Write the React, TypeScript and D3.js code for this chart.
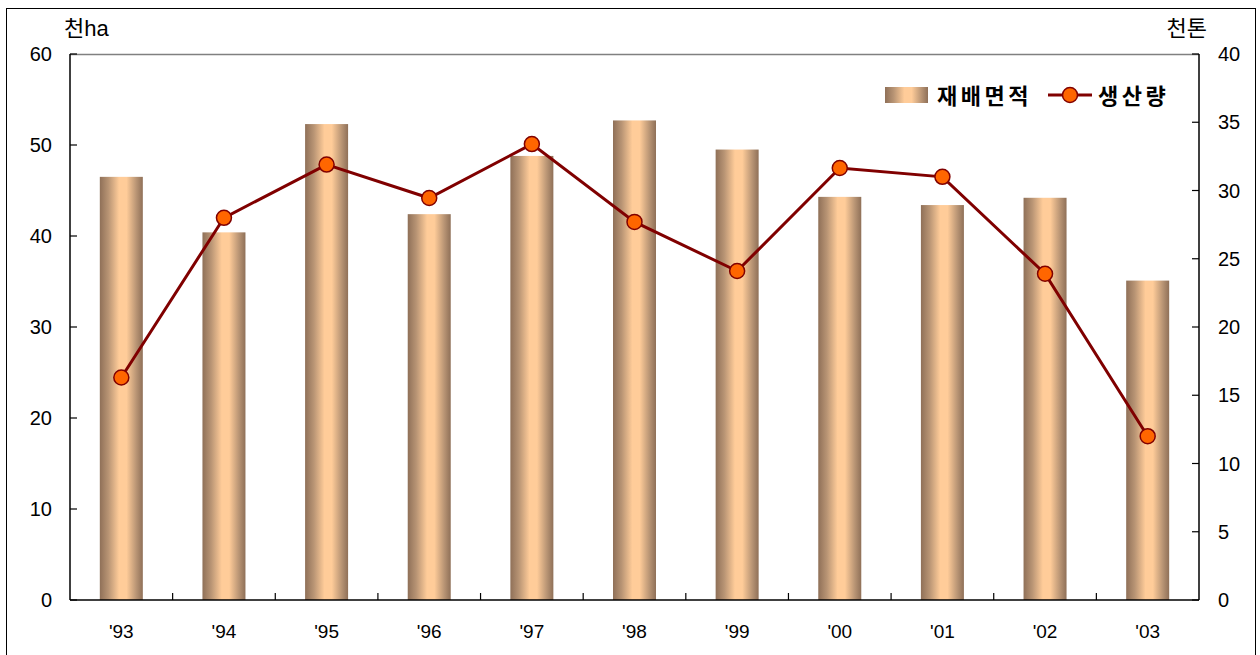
import React from "react";
import * as d3 from "d3";

const categories = ["'93", "'94", "'95", "'96", "'97", "'98", "'99", "'00", "'01", "'02", "'03"];
const areaValues = [46.5, 40.4, 52.3, 42.4, 48.8, 52.7, 49.5, 44.3, 43.4, 44.2, 35.1];
const productionValues = [16.3, 28.0, 31.9, 29.45, 33.4, 27.7, 24.1, 31.65, 31.0, 23.9, 12.0];
const leftTicks = [0, 10, 20, 30, 40, 50, 60];
const rightTicks = [0, 5, 10, 15, 20, 25, 30, 35, 40];

const W = 1260;
const H = 655;
const L = 70, R = 1199, T = 54, B = 600;
const font = "'Liberation Sans', Arial, 'Noto Sans CJK KR', sans-serif";
const kfont = "'Noto Sans CJK KR', 'Liberation Sans', sans-serif";

export default function App() {
  const x = d3.scaleBand<string>().domain(categories).range([L, R]).paddingInner(0).paddingOuter(0);
  const yL = d3.scaleLinear().domain([0, 60]).range([B, T]);
  const yR = d3.scaleLinear().domain([0, 40]).range([B, T]);
  const bw = 43;
  const line = d3
    .line<number>()
    .x((_, i) => (x(categories[i]) as number) + x.bandwidth() / 2)
    .y((d) => yR(d));

  return (
    <svg width={W} height={H} style={{ position: "absolute", left: 0, top: 0, display: "block" }}>
      <defs>
        <linearGradient id="barGrad" x1="0" x2="1" y1="0" y2="0">
          <stop offset="0%" stopColor="#8f7058" />
          <stop offset="20%" stopColor="#b89474" />
          <stop offset="45%" stopColor="#ffcc99" />
          <stop offset="62%" stopColor="#ffcc99" />
          <stop offset="85%" stopColor="#b89474" />
          <stop offset="100%" stopColor="#8f7058" />
        </linearGradient>
      </defs>
      <rect x={0} y={0} width={W} height={H} fill="#fff" />
      <rect x={6.5} y={8.5} width={1249} height={660} fill="#fff" stroke="#000" strokeWidth={1} />

      {/* plot top border */}
      <line x1={L} x2={R} y1={T + 0.5} y2={T + 0.5} stroke="#808080" strokeWidth={1.5} />

      {/* bars */}
      {areaValues.map((v, i) => (
        <rect
          key={i}
          x={(x(categories[i]) as number) + x.bandwidth() / 2 - bw / 2}
          y={yL(v)}
          width={bw}
          height={B - yL(v)}
          fill="url(#barGrad)"
        />
      ))}

      {/* axes */}
      <line x1={L} x2={L} y1={T} y2={B} stroke="#000" strokeWidth={1.5} />
      <line x1={R} x2={R} y1={T} y2={B} stroke="#000" strokeWidth={1.5} />
      <line x1={L} x2={R} y1={B} y2={B} stroke="#000" strokeWidth={1.5} />

      {leftTicks.map((t) => (
        <g key={"l" + t}>
          <line x1={L} x2={L + 7} y1={yL(t)} y2={yL(t)} stroke="#000" strokeWidth={1.2} />
          <text x={52} y={yL(t) + 7} textAnchor="end" fontFamily={font} fontSize={20} fill="#000">
            {t}
          </text>
        </g>
      ))}
      {rightTicks.map((t) => (
        <g key={"r" + t}>
          <line x1={R - 7} x2={R} y1={yR(t)} y2={yR(t)} stroke="#000" strokeWidth={1.2} />
          <text x={1218} y={yR(t) + 7} textAnchor="start" fontFamily={font} fontSize={20} fill="#000">
            {t}
          </text>
        </g>
      ))}
      {categories.map((c, i) =>
        i > 0 ? (
          <line key={"xt" + i} x1={x(c) as number} x2={x(c) as number} y1={B - 7} y2={B} stroke="#000" strokeWidth={1.2} />
        ) : null
      )}
      {categories.map((c) => (
        <text
          key={"xl" + c}
          x={(x(c) as number) + x.bandwidth() / 2}
          y={638}
          textAnchor="middle"
          fontFamily={font}
          fontSize={19}
          fill="#000"
        >
          {c}
        </text>
      ))}

      {/* unit labels */}
      <text x={64} y={36} fontFamily={kfont} fontSize={22} fill="#000">
        천<tspan fontFamily={font}>ha</tspan>
      </text>
      <text x={1207} y={36} textAnchor="end" fontFamily={kfont} fontSize={22} fill="#000">
        천톤
      </text>

      {/* line */}
      <path d={line(productionValues) || ""} fill="none" stroke="#800000" strokeWidth={3} />
      {productionValues.map((v, i) => (
        <circle
          key={"c" + i}
          cx={(x(categories[i]) as number) + x.bandwidth() / 2}
          cy={yR(v)}
          r={7.5}
          fill="#ff6600"
          stroke="#800000"
          strokeWidth={1.5}
        />
      ))}

      {/* legend */}
      <rect x={885} y={87} width={43} height={16} fill="url(#barGrad)" />
      <text x={937} y={104} fontFamily={kfont} fontSize={22} fontWeight="bold" letterSpacing={3.5} fill="#000">
        재배면적
      </text>
      <line x1={1048} x2={1092} y1={95} y2={95} stroke="#800000" strokeWidth={3} />
      <circle cx={1070} cy={95} r={7.5} fill="#ff6600" stroke="#800000" strokeWidth={1.5} />
      <text x={1098} y={104} fontFamily={kfont} fontSize={22} fontWeight="bold" letterSpacing={3.5} fill="#000">
        생산량
      </text>
    </svg>
  );
}
